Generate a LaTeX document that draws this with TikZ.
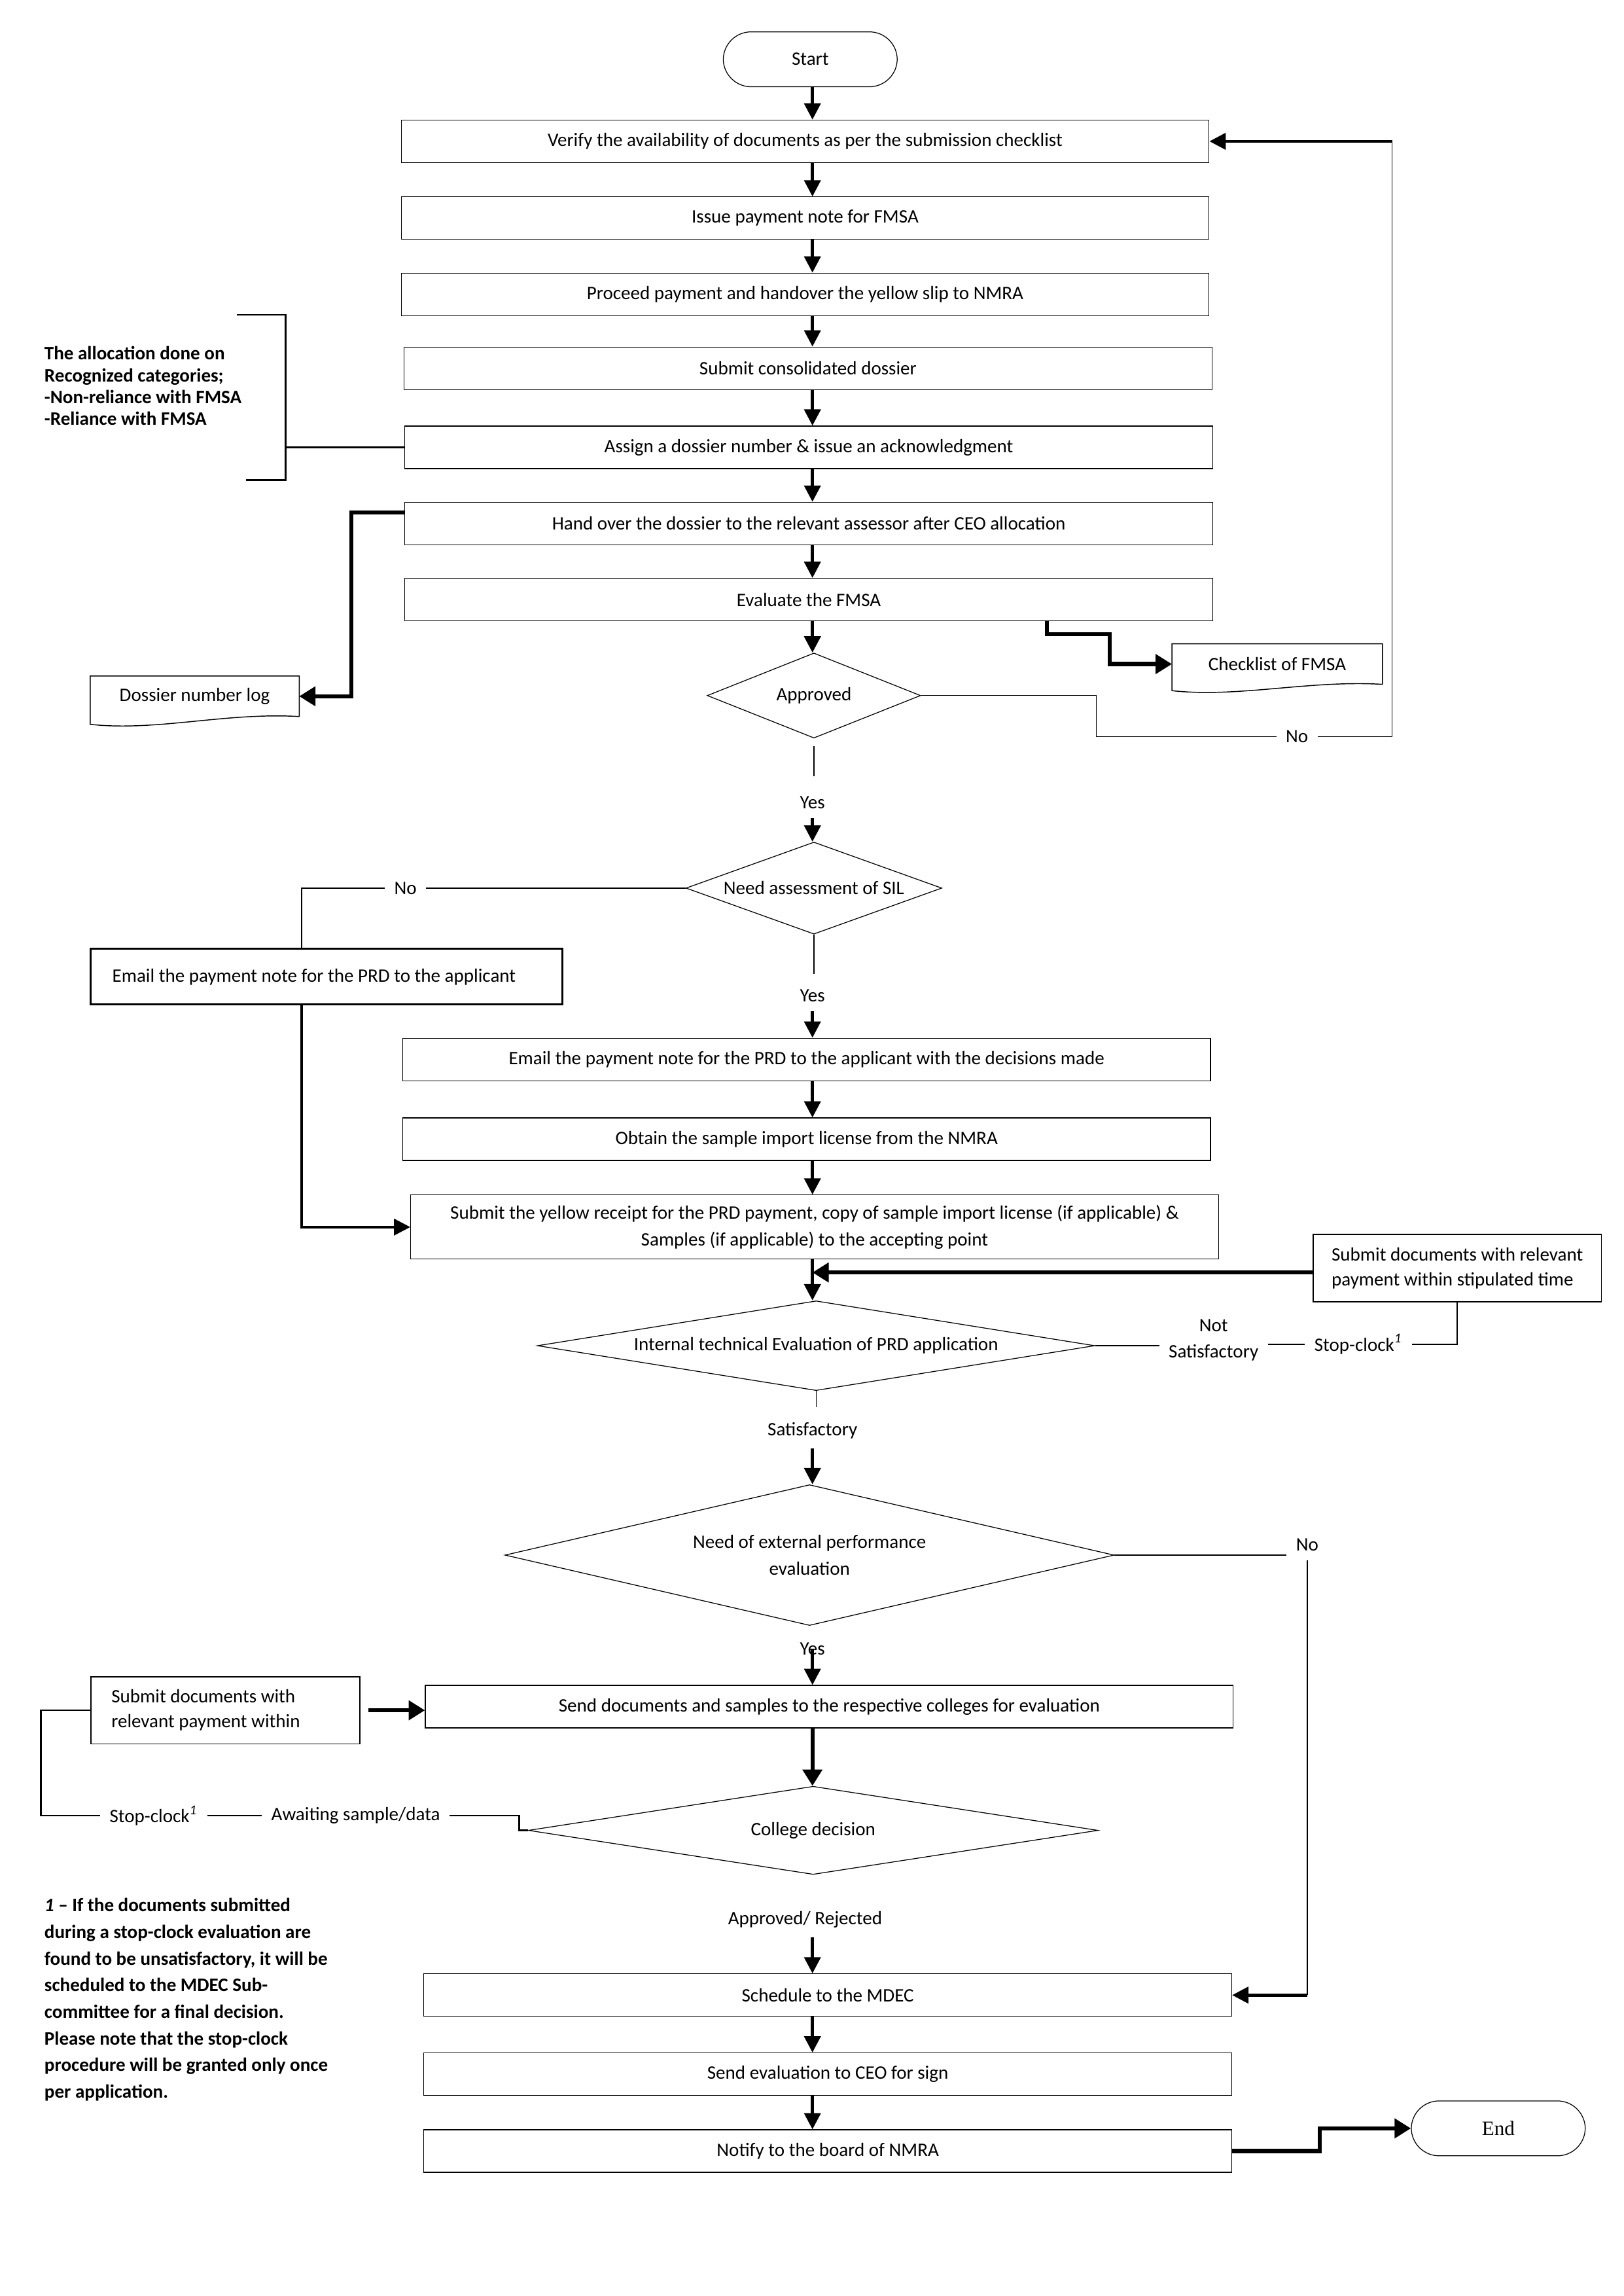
\documentclass[tikz,border=0pt]{standalone}
\usepackage{fontspec}
\setmainfont{Carlito}
\newfontfamily\tnrfont{Liberation Serif}
\usetikzlibrary{positioning,arrows.meta,shapes.geometric}

\begin{document}
\begin{tikzpicture}[x=0.018936cm,y=-0.018936cm,
    font=\fontsize{7}{8.4}\selectfont,
    proc/.style={draw,line width=0.3pt,minimum width=10.45cm,minimum height=0.55cm,inner sep=1pt},
    term/.style={draw,line width=0.3pt,rounded corners=0.36cm,minimum width=2.25cm,minimum height=0.71cm},
    decide/.style={draw,diamond,line width=0.3pt,inner sep=0pt},
    sidebox/.style={draw,line width=0.4pt,align=left,minimum height=0.87cm,font=\fontsize{7}{9.1}\selectfont},
    link/.style={line width=0.35pt},
    midline/.style={line width=0.6pt},
    arr/.style={line width=1.1pt,-{Triangle[width=6pt,length=6pt]}},
    midarr/.style={line width=0.9pt,-{Triangle[width=6pt,length=6pt]}},
    fatarr/.style={line width=1.5pt,-{Triangle[width=7pt,length=6pt]}}]
  \useasboundingbox (0,0) rectangle (1109,1568);
  % Main column
  \node[term] (start) at (553.5,40.5) {Start};
  \node[proc] (verify) at (550,96.5) {Verify the availability of documents as per the submission checklist};
  \node[proc] (issue) at (550,149) {Issue payment note for FMSA};
  \node[proc] (proceed) at (550,201) {Proceed payment and handover the yellow slip to NMRA};
  \node[proc] (submit) at (552,251.5) {Submit consolidated dossier};
  \node[proc] (assign) at (552.5,305.5) {Assign a dossier number \& issue an acknowledgment};
  \node[proc] (handover) at (552.5,357.5) {Hand over the dossier to the relevant assessor after CEO allocation};
  \node[proc] (evalfmsa) at (552.5,409.5) {Evaluate the FMSA};
  \node[decide,minimum width=2.76cm,minimum height=1.1cm,aspect=2.5] (approved) at (556,475) {Approved};
  \node (yesA) at (555,548) {Yes};
  \node[decide,minimum width=3.31cm,minimum height=1.19cm,aspect=2.8] (needsil) at (556,606.5) {Need assessment of SIL};
  \node (yesB) at (555,680) {Yes};
  \node[proc] (emaildec) at (551,723.5) {Email the payment note for the PRD to the applicant with the decisions made};
  \node[proc] (obtain) at (551,778) {Obtain the sample import license from the NMRA};
  \node[proc,minimum height=0.83cm,align=center,font=\fontsize{7}{10}\selectfont] (yellow) at (556.5,838)
    {Submit the yellow receipt for the PRD payment, copy of sample import license (if applicable) \&\\Samples (if applicable) to the accepting point};
  \node[decide,minimum width=7.21cm,minimum height=1.16cm,aspect=6.2] (internal) at (557.5,919) {Internal technical Evaluation of PRD application};
  \node (satis) at (555,977) {Satisfactory};
  \node[decide,minimum width=7.88cm,minimum height=1.82cm,aspect=4.3,align=center,font=\fontsize{7}{10}\selectfont] (extern) at (553,1062)
    {Need of external performance\\evaluation};
  \node (yesC) at (555,1126) {Yes};
  \node[proc] (colleges) at (566.5,1165.5) {Send documents and samples to the respective colleges for evaluation};
  \node[decide,minimum width=7.37cm,minimum height=1.14cm,aspect=6.4] (college) at (555.5,1250) {College decision};
  \node (decided) at (550,1311) {Approved/ Rejected};
  \node[proc] (mdec) at (565.5,1362.5) {Schedule to the MDEC};
  \node[proc] (ceo) at (565.5,1416.5) {Send evaluation to CEO for sign};
  \node[proc] (board) at (565.5,1469) {Notify to the board of NMRA};
  \node[term,font=\tnrfont\fontsize{7.5}{8.5}\selectfont] (finish) at (1023.5,1453.5) {End};
  % Side boxes
  \node[draw,line width=0.8pt,minimum width=6.1cm,minimum height=0.72cm,inner sep=0pt] (emailprd) at (223,667)
    {\makebox[5.54cm][l]{Email the payment note for the PRD to the applicant}};
  \node[sidebox,minimum width=3.73cm] (stipulated) at (995.5,866) {Submit documents with relevant\\payment within stipulated time};
  \node[sidebox,minimum width=3.48cm] (within) at (154,1168) {\makebox[2.95cm][l]{Submit documents with}\\relevant payment within};
  \node[minimum width=2.69cm,minimum height=0.51cm,inner sep=0pt] (dossierlog) at (133,475.5) {Dossier number log};
  \node[minimum width=2.71cm,minimum height=0.51cm,inner sep=0pt] (checklist) at (872.5,453.5) {Checklist of FMSA};
  % Branch labels
  \node (noA) at (886,503) {No};
  \node (noB) at (277,606.5) {No};
  \node[align=center,font=\fontsize{7}{9.6}\selectfont] (notsat) at (829,915) {Not\\Satisfactory};
  \node (stopA) at (928,918) {Stop-clock\textsuperscript{\itshape 1}};
  \node (noC) at (893,1055) {No};
  \node (stopB) at (105,1240) {Stop-clock\textsuperscript{\itshape 1}};
  \node (awaiting) at (243,1240) {Awaiting sample/data};
  % Notes
  \node[anchor=west,align=left,inner sep=0pt,font=\bfseries\fontsize{7}{8}\selectfont] (alloc) at (30,263.5)
    {The allocation done on\\Recognized categories;\\-Non-reliance with FMSA\\-Reliance with FMSA};
  \node[anchor=north west,align=left,inner sep=0pt,font=\bfseries\fontsize{7}{9.8}\selectfont] (footnote) at (30,1296)
    {\textit{1} -- If the documents submitted\\during a stop-clock evaluation are\\found to be unsatisfactory, it will be\\scheduled to the MDEC Sub-\\committee for a final decision.\\Please note that the stop-clock\\procedure will be granted only once\\per application.};
  % Document outlines
  \draw[link] (dossierlog.south east) -- (dossierlog.north east) -- (dossierlog.north west) -- ++(0,33)
    .. controls +(45,5) and +(-50,-3) .. (dossierlog.south east);
  \draw[link] (checklist.south east) -- (checklist.north east) -- (checklist.north west) -- ++(0,32)
    .. controls +(45,5) and +(-50,-3) .. (checklist.south east);
  % Allocation bracket
  \coordinate (bracket) at (195,305.5);
  \draw[line width=0.7pt] (162,215) -- (195,215) -- (195,328) -- (168,328);
  \draw[line width=0.7pt] (bracket) -- (assign.west);
  % Main flow
  \coordinate (axis) at (555,0);
  \coordinate (loopx) at (951,0);
  \coordinate (leftx) at (206,0);
  \foreach \a/\b in {start/verify,verify/issue,issue/proceed,proceed/submit,submit/assign,assign/handover,handover/evalfmsa,evalfmsa/approved}
    \draw[arr] (\a.south -| axis) -- (\b.north -| axis);
  \draw[fatarr] (handover.west |- 0,350) -| (240,0 |- dossierlog.east) -- (dossierlog.east);
  \draw[fatarr] (evalfmsa.south -| 715,0) -- (715,433) -| (758,0 |- checklist.west) -- (checklist.west);
  % Approved
  \draw[link] ([yshift=-0.1cm]approved.south) -- (approved.south |- 0,530);
  \draw[arr] (yesA.south -| axis) -- (needsil.north -| axis);
  \draw[link] (approved.east) -| (749,503) -- (noA.west);
  \draw[link] (noA.east) -- (noA.east -| loopx) -- (loopx |- verify.east);
  \draw[arr] (loopx |- verify.east) -- (verify.east);
  % SIL
  \draw[link] (needsil.south) -- (needsil.south |- 0,665);
  \draw[arr] (yesB.south -| axis) -- (emaildec.north -| axis);
  \draw[link] (needsil.west) -- (noB.east);
  \draw[midline] (noB.west) -| (emailprd.north -| leftx);
  \draw[midarr] (emailprd.south -| leftx) |- (yellow.west);
  \draw[arr] (emaildec.south -| axis) -- (obtain.north -| axis);
  \draw[arr] (obtain.south -| axis) -- (yellow.north -| axis);
  \draw[arr] (yellow.south -| axis) -- (internal.north -| axis);
  \draw[fatarr] (stipulated.west |- 0,869) -- (axis |- 0,869);
  % Internal evaluation
  \draw[link] (internal.east) -- (internal.east -| notsat.west);
  \draw[link] (notsat.east |- stopA.west) -- (stopA.west);
  \draw[link] (stopA.east) -| (stipulated.south);
  \draw[link] (internal.south) -- (internal.south |- 0,961);
  \draw[arr] (satis.south -| axis) -- (extern.north -| axis);
  % External evaluation
  \draw[link] (extern.east) -- (extern.east -| noC.west);
  \draw[midline] (noC.south) -- (noC.south |- mdec.east);
  \draw[arr] (noC.south |- mdec.east) -- (mdec.east);
  \draw[arr] (yesC.center) -- (yesC.center |- colleges.north);
  \draw[fatarr,shorten <=3pt] (within.east) -- (within.east -| colleges.west);
  \draw[fatarr] (colleges.south -| axis) -- (college.north -| axis);
  % College decision
  \draw[midline] (college.west) -- ++(-6,0) |- (awaiting.east);
  \draw[midline] (awaiting.west) -- (stopB.east);
  \draw[midline] (stopB.west) -- (stopB.west -| 28,0) |- (within.west);
  \draw[arr] (decided.south -| axis) -- (mdec.north -| axis);
  \draw[arr] (mdec.south -| axis) -- (ceo.north -| axis);
  \draw[arr] (ceo.south -| axis) -- (board.north -| axis);
  \draw[fatarr] (board.east) -- ++(60,0) |- (finish.west);
\end{tikzpicture}
\end{document}
